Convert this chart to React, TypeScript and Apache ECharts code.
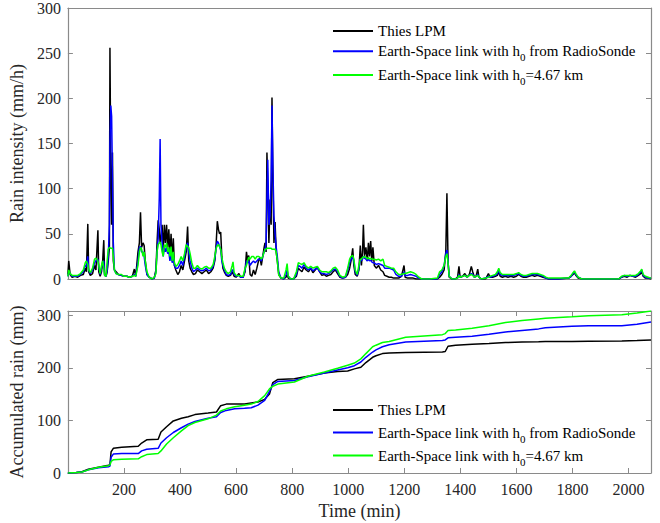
import React, { useEffect, useRef } from 'react';
import * as echarts from 'echarts';

const SERIES_NAMES = [
  'Thies LPM',
  'Earth-Space link with h0 from RadioSonde',
  'Earth-Space link with h0=4.67 km',
];
const SERIES_COLORS = ['#000000', '#0000ff', '#00ff00'];

// Top panel: rain intensity (mm/h) vs time (min)
const TIME = [
  0, 3, 8, 15, 25, 35, 45, 55, 62, 66,
  71, 74, 80, 88, 95, 100, 107, 110, 115, 120,
  124, 128, 131, 136, 140, 144, 148, 150, 153, 156,
  159, 162, 166, 172, 180, 190, 200, 210, 220, 230,
  237, 242, 250, 255, 259, 263, 268, 272, 276, 282,
  290, 300, 308, 314, 318, 322, 326, 329, 332, 336,
  340, 344, 348, 352, 356, 360, 364, 368, 372, 376,
  380, 385, 392, 398, 404, 410, 416, 422, 427, 431,
  436, 442, 448, 455, 462, 470, 478, 486, 494, 502,
  510, 518, 524, 529, 533, 537, 541, 545, 549, 553,
  558, 565, 572, 580, 586, 589, 593, 600, 610, 616,
  625, 632, 637, 641, 645, 650, 656, 662, 668, 674,
  680, 685, 690, 695, 700, 703, 707, 710, 713, 717,
  721, 725, 728, 731, 735, 739, 743, 747, 752, 760,
  770, 778, 782, 786, 795, 805, 815, 822, 828, 835,
  842, 850, 858, 866, 874, 882, 890, 898, 906, 914,
  922, 930, 938, 946, 954, 962, 970, 980, 990, 998,
  1005, 1010, 1016, 1020, 1025, 1032, 1038, 1043, 1047, 1051,
  1054, 1058, 1063, 1068, 1072, 1076, 1080, 1084, 1088, 1093,
  1100, 1108, 1116, 1124, 1130, 1138, 1146, 1154, 1162, 1170,
  1180, 1190, 1199, 1203, 1212, 1222, 1232, 1242, 1252, 1262,
  1290, 1318, 1326, 1334, 1342, 1348, 1352, 1356, 1360, 1370,
  1382, 1390, 1395, 1399, 1408, 1416, 1424, 1432, 1439, 1444,
  1450, 1456, 1462, 1466, 1475, 1490, 1500, 1506, 1515, 1525,
  1532, 1537, 1542, 1550, 1560, 1570, 1580, 1590, 1600, 1608,
  1616, 1625, 1635, 1645, 1656, 1665, 1675, 1685, 1695, 1705,
  1715, 1750, 1786, 1795, 1802, 1807, 1812, 1820, 1833, 1965,
  1975, 1985, 1995, 2005, 2015, 2025, 2035, 2043, 2047, 2052,
  2060, 2070, 2080,
];

const THIES_RATE = [
  5, 20, 5, 2, 3, 2, 4, 5, 12, 8,
  61, 8, 4, 6, 15, 10, 54, 8, 3, 8,
  20, 43, 5, 3, 8, 20, 35, 256, 120, 60,
  140, 20, 10, 8, 5, 4, 3, 3, 2, 3,
  11, 3, 30, 40, 74, 35, 40, 37, 20, 5,
  2, 0, 1, 10, 40, 65, 55, 40, 45, 60,
  30, 60, 40, 60, 35, 55, 25, 50, 20, 45,
  15, 10, 5, 8, 15, 10, 20, 30, 58, 20,
  12, 8, 5, 6, 10, 8, 6, 8, 10, 6,
  8, 12, 20, 40, 64, 55, 50, 52, 25, 12,
  8, 4, 3, 4, 8, 6, 3, 2, 6, 2,
  2, 8, 30, 20, 26, 5, 3, 10, 5, 12,
  20, 24, 15, 25, 35, 40, 30, 140, 100, 40,
  88, 60, 201, 120, 40, 63, 30, 20, 5, 1,
  0, 2, 5, 1, 0, 0, 3, 12, 10, 8,
  13, 10, 8, 12, 7, 10, 13, 8, 4, 5,
  3, 4, 5, 8, 10, 6, 2, 1, 2, 5,
  12, 20, 34, 15, 5, 3, 10, 37, 15, 30,
  60, 25, 35, 20, 40, 25, 42, 20, 35, 15,
  12, 15, 10, 8, 4, 3, 2, 2, 1, 1,
  1, 3, 15, 2, 1, 1, 1, 0, 0, 0,
  0, 0, 2, 5, 10, 30, 95, 20, 2, 0,
  0, 2, 14, 2, 3, 6, 2, 5, 14, 8,
  2, 3, 11, 2, 0, 0, 6, 2, 2, 3,
  4, 8, 3, 2, 3, 2, 3, 2, 3, 5,
  3, 2, 2, 3, 4, 3, 4, 3, 2, 1,
  0, 0, 1, 3, 5, 7, 4, 1, 0, 0,
  2, 3, 2, 4, 3, 2, 4, 6, 8, 3,
  1, 1, 0,
];

const RS_RATE = [
  3, 8, 6, 3, 3, 3, 5, 8, 15, 14,
  25, 10, 6, 10, 18, 20, 22, 14, 5, 12,
  18, 20, 4, 3, 10, 25, 60, 150, 192, 180,
  110, 40, 10, 6, 5, 4, 3, 3, 2, 3,
  5, 3, 20, 35, 36, 30, 30, 25, 15, 5,
  2, 0, 1, 8, 30, 45, 90, 155, 60, 40,
  25, 35, 30, 35, 28, 30, 20, 28, 18, 22,
  15, 12, 12, 15, 20, 15, 25, 35, 40, 30,
  20, 12, 8, 10, 12, 10, 9, 10, 12, 9,
  10, 14, 22, 35, 42, 40, 36, 32, 20, 15,
  10, 5, 4, 5, 10, 10, 5, 3, 4, 2,
  2, 10, 20, 18, 20, 15, 18, 20, 18, 20,
  22, 22, 20, 25, 30, 32, 40, 90, 132, 60,
  70, 110, 192, 127, 70, 50, 35, 25, 8, 1,
  0, 5, 10, 3, 0, 0, 5, 15, 14, 12,
  16, 12, 10, 12, 9, 11, 12, 8, 6, 6,
  5, 6, 8, 10, 11, 8, 3, 1, 2, 10,
  18, 22, 24, 20, 8, 4, 12, 22, 20, 22,
  25, 23, 22, 20, 22, 20, 21, 19, 18, 18,
  16, 17, 16, 15, 12, 12, 12, 11, 10, 5,
  3, 3, 8, 4, 4, 5, 4, 3, 1, 0,
  0, 0, 5, 8, 15, 28, 32, 20, 3, 0,
  0, 1, 5, 2, 3, 4, 2, 4, 6, 5,
  2, 3, 5, 2, 0, 1, 3, 2, 3, 4,
  6, 10, 5, 4, 4, 4, 4, 4, 5, 6,
  4, 3, 3, 4, 5, 5, 5, 4, 3, 1,
  0, 0, 1, 3, 6, 8, 5, 2, 0, 0,
  2, 4, 3, 4, 3, 3, 5, 8, 10, 4,
  2, 1, 1,
];

const FIX_RATE = [
  3, 10, 6, 4, 4, 4, 6, 10, 18, 20,
  16, 10, 7, 12, 22, 23, 20, 15, 6, 15,
  20, 12, 4, 3, 20, 33, 35, 35, 34, 34,
  34, 25, 10, 6, 5, 5, 3, 3, 2, 3,
  4, 3, 15, 30, 35, 33, 25, 30, 20, 8,
  2, 0, 2, 6, 30, 38, 40, 41, 38, 30,
  25, 38, 35, 40, 30, 35, 25, 36, 20, 30,
  18, 14, 16, 20, 25, 20, 28, 38, 36, 35,
  28, 18, 12, 12, 15, 12, 11, 13, 14, 12,
  12, 16, 25, 34, 37, 38, 36, 33, 24, 18,
  12, 8, 6, 8, 15, 19, 7, 4, 4, 3,
  3, 12, 15, 20, 24, 22, 25, 25, 22, 25,
  25, 24, 22, 25, 30, 33, 33, 34, 34, 34,
  34, 34, 33, 33, 33, 33, 30, 20, 5, 1,
  1, 10, 17, 3, 0, 0, 8, 18, 17, 16,
  18, 14, 12, 14, 12, 13, 14, 10, 8, 8,
  8, 7, 9, 12, 13, 10, 4, 2, 3, 12,
  22, 25, 26, 22, 10, 5, 15, 22, 22, 24,
  24, 25, 24, 22, 24, 22, 23, 22, 22, 22,
  21, 22, 20, 22, 15, 14, 13, 12, 12, 8,
  5, 5, 6, 6, 7, 8, 7, 5, 2, 0,
  0, 1, 8, 10, 15, 25, 28, 18, 3, 0,
  0, 1, 4, 2, 3, 4, 2, 4, 5, 4,
  2, 3, 4, 2, 0, 1, 2, 3, 4, 5,
  8, 12, 7, 5, 5, 5, 5, 5, 6, 7,
  5, 4, 4, 5, 6, 6, 6, 5, 4, 2,
  1, 1, 1, 4, 7, 9, 6, 2, 0, 0,
  3, 4, 4, 4, 4, 4, 6, 9, 11, 5,
  3, 2, 1,
];

// Bottom panel: accumulated rain (mm) vs time (min)
const ACC_TIME = [
  0, 30, 50, 73, 109, 145, 150, 154, 162, 192,
  251, 263, 281, 322, 332, 352, 376, 405, 429, 453,
  500, 530, 545, 565, 595, 630, 654, 678, 702, 719,
  731, 749, 808, 856, 915, 962, 998, 1022, 1045, 1063,
  1087, 1099, 1122, 1146, 1205, 1336, 1346, 1356, 1383, 1442,
  1502, 1561, 1620, 1679, 1703, 1798, 1857, 1976, 2030, 2080,
];
const THIES_ACC = [
  0, 1, 2.5, 7, 11, 15, 16, 40, 47, 49,
  51, 57, 63, 64, 78, 88, 99, 104, 107, 111,
  114, 116, 128, 131, 131, 131, 133, 135, 140, 150,
  172, 178, 179, 184, 190, 193, 194, 198, 201, 210,
  220, 223, 227, 228, 229, 230, 231, 241, 243, 245,
  246, 248, 249, 249.5, 250, 250, 250.5, 251, 252, 253,
];
const RS_ACC = [
  0, 1, 2, 6, 10, 12, 13, 30, 36, 37,
  37, 42, 45, 47, 57, 67, 77, 86, 93, 98,
  104, 107, 115, 119, 122, 123, 124, 129, 138, 155,
  168, 174, 176, 183, 190, 196, 200, 204, 211, 220,
  230, 234, 240, 244, 249, 252, 253, 257, 258, 260,
  264, 268, 271, 274, 276, 279, 280, 280, 283, 287,
];
const FIX_ACC = [
  0, 1, 2, 6, 11, 14, 15, 22, 25, 26,
  27, 31, 35, 37, 42, 55, 67, 80, 90, 96,
  103, 110, 118, 122, 126, 129, 131, 136, 147, 160,
  165, 169, 173, 184, 192, 199, 205, 209, 217, 227,
  240, 243, 248, 250, 258, 263, 265, 271, 272, 275,
  280, 286, 290, 293, 294, 297, 299, 301, 304, 308,
];

const X_MIN = 0;
const X_MAX = 2080;
const X_STEP = 200;
const RATE_MAX = 300;
const RATE_STEP = 50;
const ACC_MAX = 308;
const ACC_STEP = 100;

const FONT = 'Liberation Serif';
const AXIS_COLOR = '#8a8a8a';
const TEXT_COLOR = '#262626';

const pairs = (xs: number[], ys: number[]) => xs.map((x, i) => [x, ys[i]]);

export default function App() {
  const ref = useRef<HTMLDivElement>(null);

  useEffect(() => {
    if (!ref.current) return;
    const chart = echarts.init(ref.current, undefined, { renderer: 'svg' });

    const axisLine = { show: true, onZero: false, lineStyle: { color: AXIS_COLOR, width: 1.2 } };
    const tick = { show: true, inside: true, length: 5, lineStyle: { color: AXIS_COLOR, width: 1 } };
    const label = { show: true, color: TEXT_COLOR, fontFamily: FONT, fontSize: 16 };
    const nameStyle = { color: TEXT_COLOR, fontFamily: FONT, fontSize: 18 };

    const rateData = [THIES_RATE, RS_RATE, FIX_RATE];
    const accData = [THIES_ACC, RS_ACC, FIX_ACC];

    const legendTextStyle = {
      fontFamily: FONT,
      fontSize: 15,
      color: '#000',
      rich: {
        sub: { fontFamily: FONT, fontSize: 11, color: '#000', padding: [12, 0, 0, 0] },
      },
    };
    const legendTops = [
      [23.5, 43.7, 67.5],
      [402.5, 425, 448],
    ];
    const legends: any[] = [];
    legendTops.forEach((tops) => {
      SERIES_NAMES.forEach((name, i) => {
        legends.push({
          data: [name],
          left: 333,
          top: tops[i],
          orient: 'vertical',
          padding: 0,
          icon: 'rect',
          itemWidth: 40,
          itemHeight: 2,
          itemGap: 0,
          selectedMode: false,
          textStyle: legendTextStyle,
          formatter: (n: string) => n.replace('h0', 'h{sub|0}'),
        });
      });
    });

    const series: any[] = [];
    SERIES_NAMES.forEach((name, i) => {
      series.push({
        name,
        type: 'line',
        xAxisIndex: 0,
        yAxisIndex: 0,
        data: pairs(TIME, rateData[i]),
        symbol: 'none',
        lineStyle: { color: SERIES_COLORS[i], width: 1.5 },
        itemStyle: { color: SERIES_COLORS[i] },
      });
    });
    SERIES_NAMES.forEach((name, i) => {
      series.push({
        name,
        type: 'line',
        xAxisIndex: 2,
        yAxisIndex: 2,
        data: pairs(ACC_TIME, accData[i]),
        symbol: 'none',
        lineStyle: { color: SERIES_COLORS[i], width: 1.5 },
        itemStyle: { color: SERIES_COLORS[i] },
      });
    });

    const xLabelFmt = (v: number) => (v % X_STEP === 0 && v !== 0 ? String(v) : '');

    chart.setOption({
      animation: false,
      backgroundColor: '#ffffff',
      textStyle: { fontFamily: FONT },
      grid: [
        { left: 66, top: 8, width: 585, height: 271 },
        { left: 66, top: 311, width: 585, height: 162 },
      ],
      xAxis: [
        {
          gridIndex: 0, type: 'value', position: 'bottom', min: X_MIN, max: X_MAX, interval: X_STEP,
          axisLine, axisTick: { show: false }, axisLabel: { show: false }, splitLine: { show: false },
        },
        {
          gridIndex: 0, type: 'value', position: 'top', min: X_MIN, max: X_MAX, interval: X_STEP,
          axisLine, axisTick: { show: false }, axisLabel: { show: false }, splitLine: { show: false },
        },
        {
          gridIndex: 1, type: 'value', position: 'bottom', min: X_MIN, max: X_MAX, interval: X_STEP,
          axisLine, axisTick: tick,
          axisLabel: { ...label, margin: 8, formatter: xLabelFmt, showMinLabel: false, showMaxLabel: false },
          splitLine: { show: false },
          name: 'Time (min)', nameLocation: 'middle', nameGap: 29, nameTextStyle: nameStyle,
        },
        {
          gridIndex: 1, type: 'value', position: 'top', min: X_MIN, max: X_MAX, interval: X_STEP,
          axisLine, axisTick: tick, axisLabel: { show: false }, splitLine: { show: false },
        },
      ],
      yAxis: [
        {
          gridIndex: 0, type: 'value', position: 'left', min: 0, max: RATE_MAX, interval: RATE_STEP,
          axisLine, axisTick: tick, axisLabel: { ...label, margin: 7 }, splitLine: { show: false },
          name: 'Rain intensity (mm/h)', nameLocation: 'middle', nameGap: 33, nameTextStyle: nameStyle,
        },
        {
          gridIndex: 0, type: 'value', position: 'right', min: 0, max: RATE_MAX, interval: RATE_STEP,
          axisLine, axisTick: tick, axisLabel: { show: false }, splitLine: { show: false },
        },
        {
          gridIndex: 1, type: 'value', position: 'left', min: 0, max: ACC_MAX, interval: ACC_STEP,
          axisLine, axisTick: tick, axisLabel: { ...label, margin: 7, showMaxLabel: false,
            formatter: (v: number) => (v % ACC_STEP === 0 ? String(v) : '') },
          splitLine: { show: false },
          name: 'Accumulated rain (mm)', nameLocation: 'middle', nameGap: 33, nameTextStyle: nameStyle,
        },
        {
          gridIndex: 1, type: 'value', position: 'right', min: 0, max: ACC_MAX, interval: ACC_STEP,
          axisLine, axisTick: tick, axisLabel: { show: false }, splitLine: { show: false },
        },
      ],
      legend: legends,
      series,
    });

    return () => chart.dispose();
  }, []);

  return (
    <div
      ref={ref}
      style={{ position: 'absolute', left: 0, top: 0, width: 660, height: 523, background: '#fff' }}
    />
  );
}
